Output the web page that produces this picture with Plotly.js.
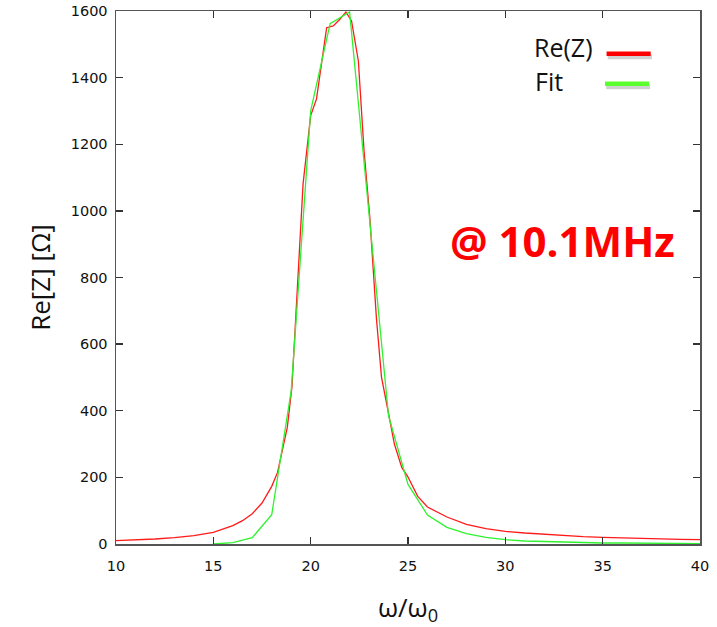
<!DOCTYPE html>
<html>
<head>
<meta charset="utf-8">
<script src="https://cdn.plot.ly/plotly-3.0.1.min.js"></script>
<style>html,body{margin:0;padding:0;background:#fff;}#chart{width:717px;height:627px;}</style>
</head>
<body>
<div id="chart"></div>
<script>
// Re(Z) measured data
const reX = [10, 11, 12, 13, 14, 15, 16, 16.5, 17, 17.5, 18, 18.3, 18.6, 18.8, 19.04, 19.34, 19.61, 20.0, 20.3, 20.82, 21.16, 21.5, 21.81, 22.1, 22.45, 22.74, 23.04, 23.38, 23.64, 24.0, 24.3, 24.68, 25.0, 25.5, 26, 27, 28, 29, 30, 31, 32, 33, 34, 35, 36, 37, 38, 39, 40];
const reY = [10, 12, 15, 19, 25, 35, 55, 70, 91, 123, 173, 215, 290, 350, 473, 777, 1081, 1286, 1336, 1550, 1555, 1575, 1597, 1570, 1450, 1182, 979, 676, 500, 392, 300, 230, 201, 143, 111, 81, 59, 46, 38, 33, 29, 26, 22, 20, 18, 16, 15, 14, 13];
// Fit
const fitX = [15, 16, 17, 18, 19, 20, 21, 22, 23, 24, 25, 26, 27, 28, 29, 30, 31, 32, 33, 34, 35, 36, 37, 38, 39, 40];
const fitY = [0, 4, 19, 88, 460, 1300, 1562, 1597, 990, 385, 179, 87, 50, 31, 20, 13, 9, 7, 5, 4, 3, 3, 2, 2, 2, 1];
const seriesNames = ["Re(Z)", "Fit"];
const xTicks = [10, 15, 20, 25, 30, 35, 40];
const yTicks = [0, 200, 400, 600, 800, 1000, 1200, 1400, 1600];
const xTitle = "ω/ω<sub>0</sub>";
const yTitle = "Re[Z] [Ω]";
const note = "@ 10.1MHz";

const traces = [
  {x: reX, y: reY, name: seriesNames[0], mode: "lines", line: {color: "#ff1a1a", width: 1.3}},
  {x: fitX, y: fitY, name: seriesNames[1], mode: "lines", line: {color: "#2ef22e", width: 1.3}}
];

const axisCommon = {
  showline: true, linecolor: "#555", linewidth: 1.5, mirror: "ticks",
  ticks: "inside", ticklen: 7, tickwidth: 1.3, tickcolor: "#333",
  showgrid: false, zeroline: false,
  tickfont: {family: "DejaVu Sans", size: 14.5, color: "#111"}
};

const layout = {
  width: 717, height: 627,
  margin: {l: 116, r: 17, t: 10.5, b: 82.5},
  paper_bgcolor: "#fff", plot_bgcolor: "#fff",
  showlegend: false,
  xaxis: Object.assign({}, axisCommon, {
    range: [10, 40], tickvals: xTicks, ticktext: xTicks.map(String),
    ticklabelstandoff: 8,
    title: {text: xTitle, font: {family: "Open Sans", size: 26, color: "#111"}, standoff: 28}
  }),
  yaxis: Object.assign({}, axisCommon, {
    range: [0, 1600], tickvals: yTicks, ticktext: yTicks.map(String),
    ticklabelstandoff: 4,
    title: {text: yTitle, font: {family: "Open Sans", size: 26, color: "#111"}, standoff: 12}
  }),
  shapes: [
    {type: "line", xref: "paper", yref: "paper", x0: 0.842, x1: 0.9176, y0: 0.9142, y1: 0.9142, line: {color: "rgba(0,0,0,0.18)", width: 5}},
    {type: "line", xref: "paper", yref: "paper", x0: 0.8393, x1: 0.9147, y0: 0.858, y1: 0.858, line: {color: "rgba(0,0,0,0.18)", width: 5}},
    {type: "line", xref: "paper", yref: "paper", x0: 0.840, x1: 0.9156, y0: 0.9199, y1: 0.9199, line: {color: "#ff0000", width: 4.5}},
    {type: "line", xref: "paper", yref: "paper", x0: 0.8373, x1: 0.9127, y0: 0.8637, y1: 0.8637, line: {color: "#5cff2e", width: 4.5}}
  ],
  annotations: [
    {text: seriesNames[0], xref: "paper", yref: "paper", x: 0.7118, y: (544.5 - 47) / 534, xanchor: "left", yanchor: "middle", showarrow: false, font: {family: "Open Sans", size: 25, color: "#111"}},
    {text: seriesNames[1], xref: "paper", yref: "paper", x: 0.7135, y: (544.5 - 81) / 534, xanchor: "left", yanchor: "middle", showarrow: false, font: {family: "Open Sans", size: 25, color: "#111"}},
    {text: "<b>" + note + "</b>", xref: "paper", yref: "paper", x: 0.569, y: (544.5 - 240) / 534, xanchor: "left", yanchor: "middle", showarrow: false, font: {family: "Open Sans", size: 42, color: "#ff0000"}}
  ]
};

Plotly.newPlot("chart", traces, layout, {displayModeBar: false, staticPlot: true});
</script>
</body>
</html>
